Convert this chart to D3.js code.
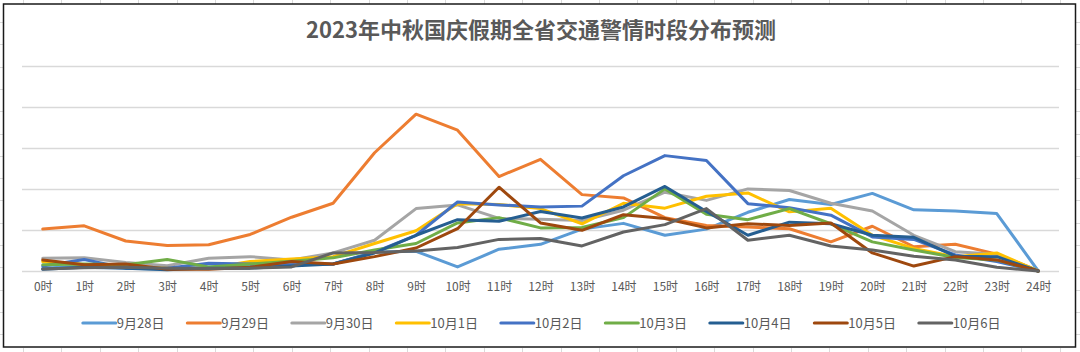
<!DOCTYPE html>
<html><head><meta charset="utf-8">
<script src="https://cdn.jsdelivr.net/npm/d3@7"></script>
<style>
html,body{margin:0;padding:0;background:#fff;}
svg{display:block;font-family:"Noto Sans CJK SC","Noto Sans",sans-serif;}
</style></head>
<body><svg id="chart" width="1080" height="352"></svg>
<script>
const title = "2023年中秋国庆假期全省交通警情时段分布预测";
const hours = ["0时","1时","2时","3时","4时","5时","6时","7时","8时","9时","10时","11时","12时","13时","14时","15时","16时","17时","18时","19时","20时","21时","22时","23时","24时"];
const seriesNames = ["9月28日","9月29日","9月30日","10月1日","10月2日","10月3日","10月4日","10月5日","10月6日"];
const seriesColors = ["#5B9BD5","#ED7D31","#A5A5A5","#FFC000","#4472C4","#70AD47","#255E91","#9E480E","#636363"];
const yTicks = [0,10,20,30,40,50];

const sep28 = [0.7,1.2,0.7,0.5,1.0,1.2,1.5,1.7,4.6,4.8,1.0,5.3,6.5,10.2,11.6,8.7,10.2,14.3,17.4,16.2,18.9,14.9,14.6,14.0,0];
const sep29 = [10.2,11.0,7.3,6.2,6.4,8.9,13.1,16.5,28.8,38.2,34.3,23.0,27.2,18.6,17.8,13.0,11.1,10.7,10.3,7.1,10.9,5.9,6.5,4.1,0];
const sep30 = [3.1,3.2,2.1,1.3,3.1,3.5,2.7,4.4,7.5,15.2,16.1,12.8,12.6,12.3,14.8,19.2,17.2,20.0,19.6,16.5,14.6,8.7,4.7,4.1,0];
const oct1  = [2.3,1.6,1.2,0.7,0.7,2.3,2.9,3.5,6.7,9.8,16.4,16.2,15.2,11.5,16.5,15.3,18.2,19.0,14.4,15.3,8.7,5.5,3.5,4.4,0];
const oct2  = [1.2,2.8,0.7,0.7,1.9,1.7,1.5,1.7,4.6,8.7,16.8,16.1,15.6,15.8,23.2,28.1,26.9,16.4,15.4,13.6,8.3,7.7,3.9,2.3,0];
const oct3  = [1.5,1.7,1.5,2.8,1.0,1.7,2.4,3.2,5.1,6.7,11.7,13.0,10.5,10.6,13.0,20.0,13.8,12.5,15.2,11.5,7.1,5.1,3.3,2.7,0];
const oct4  = [0.4,0.9,0.7,0.3,0.7,0.7,1.2,1.7,4.4,8.7,12.5,12.1,14.5,12.9,15.6,20.6,14.5,8.7,11.9,11.5,8.7,8.2,3.6,3.5,0];
const oct5  = [2.7,1.5,1.7,0.4,0.4,0.9,2.3,1.7,3.5,5.6,10.3,20.4,11.7,9.9,13.7,12.8,10.5,11.5,11.1,11.7,4.4,1.2,3.5,2.7,0];
const oct6  = [0.5,0.8,0.9,0.7,0.6,0.7,1.0,4.4,4.5,4.9,5.7,7.7,7.9,6.1,9.5,11.3,15.2,7.5,8.7,6.1,5.1,3.6,2.7,0.9,0];
const seriesValues = [sep28,sep29,sep30,oct1,oct2,oct3,oct4,oct5,oct6];

const svg = d3.select("#chart");
const W = 1080, H = 352;

// spreadsheet cell grid outside the chart
const bg = svg.append("g").attr("stroke","#dadada").attr("stroke-width",1);
d3.range(23, W, 38.4).forEach(x => {
  bg.append("line").attr("x1",Math.round(x)+0.5).attr("x2",Math.round(x)+0.5).attr("y1",0).attr("y2",4);
  bg.append("line").attr("x1",Math.round(x)+0.5).attr("x2",Math.round(x)+0.5).attr("y1",348).attr("y2",H);
});
d3.range(22, H, 22.3).forEach(y => {
  bg.append("line").attr("y1",Math.round(y)+0.5).attr("y2",Math.round(y)+0.5).attr("x1",0).attr("x2",3);
  bg.append("line").attr("y1",Math.round(y)+0.5).attr("y2",Math.round(y)+0.5).attr("x1",1076).attr("x2",W);
});

// chart frame
svg.append("rect").attr("x",3.5).attr("y",4).attr("width",1072).attr("height",343)
  .attr("fill","#fff").attr("stroke","#1a1a1a").attr("stroke-width",1.5);

const x = d3.scalePoint().domain(hours).range([22,1059]).padding(0.5);
const y = d3.scaleLinear().domain([0,50]).range([271,65.7]);

// gridlines
svg.append("g").selectAll("line").data(yTicks).join("line")
  .attr("x1",22).attr("x2",1059)
  .attr("y1",d=>Math.round(y(d))+0.5).attr("y2",d=>Math.round(y(d))+0.5)
  .attr("stroke","#d9d9d9").attr("stroke-width",1.3);

// x axis labels
const xAxis = d3.axisBottom(x).tickSize(0).tickPadding(0);
const gx = svg.append("g").attr("transform","translate(0,282)").call(xAxis);
gx.select(".domain").remove();
gx.selectAll("text").attr("fill","#595959").attr("font-size",12).attr("dy","0.71em")
  .style("font-family",'"Noto Sans CJK SC",sans-serif');

// lines
const line = d3.line().x((d,i)=>x(hours[i])).y(d=>y(d));
svg.append("g").selectAll("path").data(seriesValues).join("path")
  .attr("d",line).attr("fill","none")
  .attr("stroke",(d,i)=>seriesColors[i]).attr("stroke-width",3)
  .attr("stroke-linejoin","round").attr("stroke-linecap","round");

// title
svg.append("text").attr("x",541).attr("y",38).attr("text-anchor","middle")
  .attr("font-size",22).attr("font-weight","bold").attr("fill","#595959")
  .text(title);

// legend
const lg = svg.append("g").selectAll("g").data(seriesNames).join("g")
  .attr("transform",(d,i)=>`translate(${82.8 + i*104.5},323)`);
lg.append("line").attr("x1",0).attr("x2",33).attr("y1",0).attr("y2",0)
  .attr("stroke",(d,i)=>seriesColors[i]).attr("stroke-width",3).attr("stroke-linecap","round");
lg.append("text").attr("x",34).attr("y",0).attr("dy","0.35em")
  .attr("font-size",13).attr("fill","#595959").text(d=>d);
</script></body></html>
